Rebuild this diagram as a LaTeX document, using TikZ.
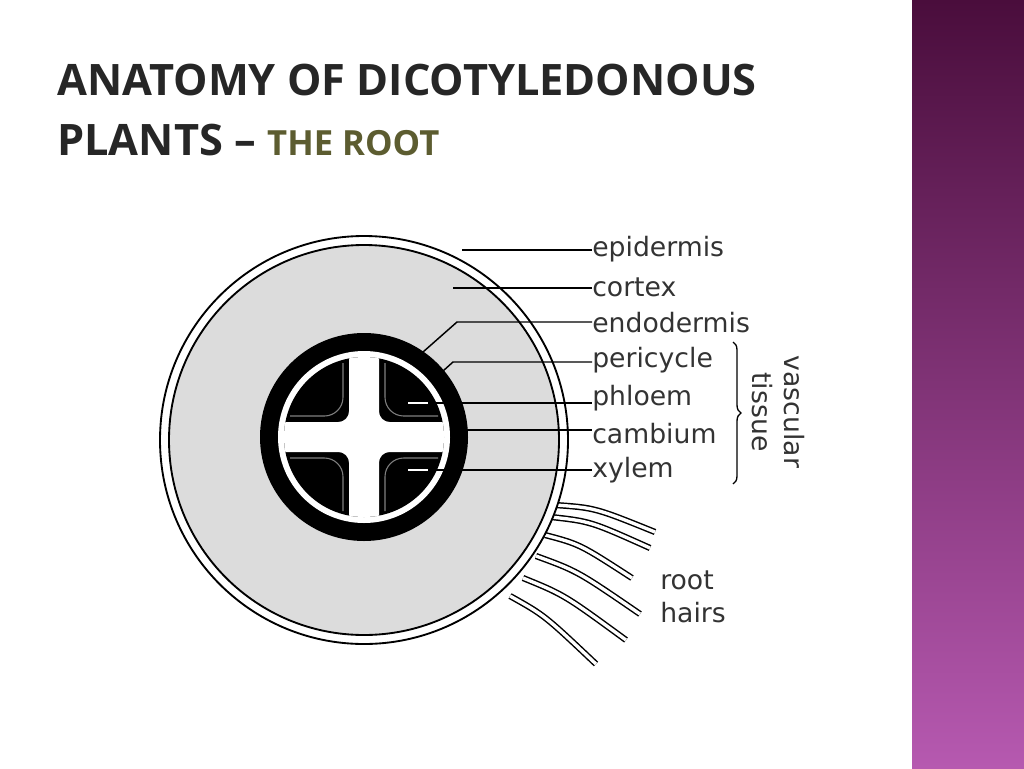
\documentclass[tikz,border=0pt]{standalone}
\usepackage{fontspec}
\setmainfont{Open Sans}
\newfontfamily\labelfont{DejaVu Sans}
\usetikzlibrary{positioning}
\usetikzlibrary{calc}
\usetikzlibrary{decorations.pathreplacing}
\definecolor{titlegray}{HTML}{262626}
\definecolor{olive}{HTML}{5C5C30}
\definecolor{cortexgray}{HTML}{DCDCDC}
\definecolor{bandtop}{HTML}{4A0D3C}
\definecolor{bandbot}{HTML}{B659B0}
\tikzstyle{lbl} = [anchor = west, inner sep = 0pt, text = black!80, font = \labelfont\fontsize{20}{22}\selectfont]
\tikzstyle{pointer} = [line width = 1.1pt]
\tikzstyle{hair} = [line width = 1.1pt, double = white, double distance = 2.5pt]

\begin{document}
\begin{tikzpicture}[x = 0.75pt, y = -0.75pt]

		\useasboundingbox (0, 0) rectangle (1024, 768);
		% Side band
		\shade[top color = bandtop, bottom color = bandbot] (912, 0) rectangle (1024, 768);

		% Title
		\node[anchor = base west, inner sep = 0pt, text = titlegray, font = \fontsize{32.5}{38}\selectfont\bfseries] (title1) at (57, 95) {ANATOMY OF DICOTYLEDONOUS};
		\node[anchor = base west, inner sep = 0pt, text = titlegray, font = \fontsize{32.5}{38}\selectfont\bfseries] (title2) at (57, 155) {PLANTS \textendash\ \textcolor{olive}{\fontsize{26}{30}\selectfont THE ROOT}};

		% Root hairs
		\foreach \sx/\sy/\ex/\ey in {555/505/655/532, 551/517/650/548, 545/535/632/578, 536/556/640/614, 523/578/626/640, 510/596/596/664}
		{
			\draw[hair] (\sx, \sy) .. controls ($(\sx, \sy)!0.4!(\ex, \ey) + (0, -8)$) .. (\ex, \ey);
		}

		% Epidermis and cortex
		\node[circle, draw, line width = 1.4pt, fill = white, minimum size = 408*0.75pt] (epi) at (364, 440) {};
		\node[circle, draw, line width = 1.4pt, fill = cortexgray, minimum size = 390*0.75pt] (cortex) at (364, 440) {};

		% Vascular cylinder
		\node[circle, fill = black, minimum size = 208*0.75pt] (endo) at (364, 437) {};
		\node[circle, fill = white, minimum size = 172*0.75pt] (peri) at (364, 437) {};
		\node[circle, fill = black, minimum size = 160*0.75pt] (phloem) at (364, 437) {};
		% Xylem cross
		\begin{scope}
			\clip (364, 437) circle (80*0.75pt);
			\fill[white, rounded corners = 8pt] (349, 340) -- (379, 340) -- (379, 422) -- (460, 422) -- (460, 452) -- (379, 452) -- (379, 534) -- (349, 534) -- (349, 452) -- (268, 452) -- (268, 422) -- (349, 422) -- cycle;
		\end{scope}
		% Cambium
		\draw[gray, line width = 0.8pt, rounded corners = 14pt] (343, 363) -- (343, 416) -- (290, 416);
		\draw[gray, line width = 0.8pt, rounded corners = 14pt] (385, 363) -- (385, 416) -- (438, 416);
		\draw[gray, line width = 0.8pt, rounded corners = 14pt] (343, 511) -- (343, 458) -- (290, 458);
		\draw[gray, line width = 0.8pt, rounded corners = 14pt] (385, 511) -- (385, 458) -- (438, 458);

		% Labels
		\node[lbl] (lepi) at (592, 249) {epidermis};
		\node[lbl] (lcortex) at (592, 287) {cortex};
		\node[lbl] (lendo) at (592, 323) {endodermis};
		\node[lbl] (lperi) at (592, 360) {pericycle};
		\node[lbl] (lphloem) at (592, 398) {phloem};
		\node[lbl] (lcamb) at (592, 434) {cambium};
		\node[lbl] (lxylem) at (592, 470) {xylem};
		\node[lbl] (lroot) at (660, 580) {root};
		\node[lbl] (lhairs) at (660, 613) {hairs};

		% Pointer ends
		\coordinate (pepi) at (462, 250);
		\coordinate (pcortex) at (453, 288);
		\coordinate (pendo) at (423, 352);
		\coordinate (pperi) at (433, 380);
		\coordinate (pphloem) at (408, 403);
		\coordinate (pcamb) at (450, 430);
		\coordinate (pxylem) at (408, 470);

		% Connect labels
		\draw[pointer] (pepi) -- (pepi -| lepi.west);
		\draw[pointer] (pcortex) -- (pcortex -| lcortex.west);
		\draw[pointer] (pendo) -- (457, 322) -- (lendo.west |- 0, 322);
		\draw[pointer] (pperi) -- (453, 362) -- (lperi.west |- 0, 362);
		\draw[pointer] (pphloem) -- (pphloem -| lphloem.west);
		\draw[white, line width = 1.1pt] (pphloem) -- (428, 403);
		\draw[pointer] (pcamb) -- (pcamb -| lcamb.west);
		\draw[pointer] (pxylem) -- (pxylem -| lxylem.west);
		\draw[white, line width = 1.1pt] (pxylem) -- (428, 470);

		% Vascular tissue brace
		\draw[decorate, decoration = {brace, amplitude = 6pt}, line width = 1pt] (733, 342) -- (733, 484);
		\node[rotate = -90, align = center, text = black!80, font = \labelfont\fontsize{20}{24}\selectfont] (vasc) at (778, 412) {vascular\\tissue};

	\end{tikzpicture}
\end{document}
